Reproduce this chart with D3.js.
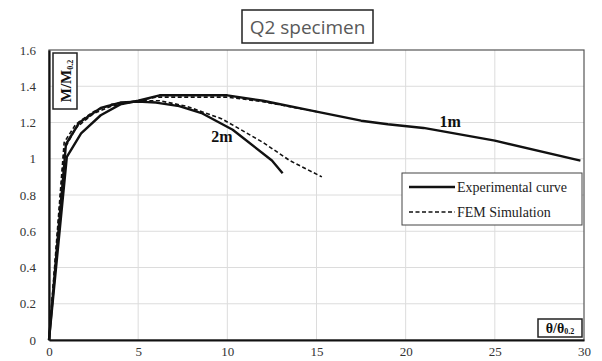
<!DOCTYPE html>
<html>
<head>
<meta charset="utf-8">
<script src="https://cdn.jsdelivr.net/npm/d3@7"></script>
<style>
  body { margin: 0; background: #fff; }
  .tick text { font-family: "Liberation Serif", "DejaVu Serif", serif; font-size: 13px; fill: #333; }
</style>
</head>
<body>
<div id="chart"></div>
<script>
// values
var xTicks = [0, 5, 10, 15, 20, 25, 30];
var yTicks = [0, 0.2, 0.4, 0.6, 0.8, 1, 1.2, 1.4, 1.6];

// [theta/theta0.2, M/M0.2]
var exp1m = [[0,0],[1.0,1.01],[1.8,1.14],[2.9,1.24],[4,1.30],[5,1.32],[6.2,1.35],[10,1.35],[12,1.32],[15,1.26],[17.5,1.21],[19,1.19],[21,1.17],[25,1.10],[29.8,0.99]];
var exp2m = [[0,0],[0.95,1.08],[1.7,1.2],[2.9,1.28],[4,1.31],[5,1.315],[6,1.31],[7.3,1.29],[8.6,1.25],[10.3,1.16],[12.5,0.99],[13.1,0.92]];
var fem1m = [[0,0],[0.85,1.05],[1.5,1.17],[2.5,1.25],[3.5,1.29],[5,1.32],[6,1.34],[10,1.34],[12,1.315],[15,1.26]];
var fem2m = [[0,0],[0.85,1.09],[1.5,1.19],[2.5,1.26],[3.5,1.3],[5,1.32],[6.2,1.32],[7.7,1.29],[9.7,1.22],[12,1.09],[13.5,0.99],[15.3,0.90]];

var legendLabels = ["Experimental curve", "FEM Simulation"];

var svgWidth = 602, svgHeight = 361;
var margin = {top: 50, right: 18, bottom: 21, left: 49};
var width = svgWidth - margin.left - margin.right,
    height = svgHeight - margin.top - margin.bottom;

var svg = d3.select('#chart').append('svg')
  .attr('width', svgWidth)
  .attr('height', svgHeight);

var g = svg.append('g')
  .attr('transform', 'translate(' + margin.left + ',' + margin.top + ')');

var x = d3.scaleLinear().domain([0, 30]).range([0, width]);
var y = d3.scaleLinear().domain([0, 1.6]).range([height, 0]);

// grid
g.append('g').selectAll('line.vg')
  .data(xTicks.slice(1, -1)).enter().append('line')
  .attr('x1', function(d) { return x(d); }).attr('x2', function(d) { return x(d); })
  .attr('y1', 0).attr('y2', height)
  .attr('stroke', '#dcdcdc').attr('stroke-width', 1);
g.append('g').selectAll('line.hg')
  .data(yTicks.slice(1, -1)).enter().append('line')
  .attr('y1', function(d) { return y(d); }).attr('y2', function(d) { return y(d); })
  .attr('x1', 0).attr('x2', width)
  .attr('stroke', '#dcdcdc').attr('stroke-width', 1);

// plot frame
g.append('rect')
  .attr('x', 0).attr('y', 0).attr('width', width).attr('height', height)
  .attr('fill', 'none').attr('stroke', '#555').attr('stroke-width', 1.2);

// axes
var xAxis = g.append('g')
  .attr('transform', 'translate(0,' + height + ')')
  .call(d3.axisBottom(x).tickValues(xTicks).tickSize(0).tickPadding(7).tickFormat(d3.format('d')));
xAxis.select('.domain').attr('stroke', '#111').attr('stroke-width', 2.2);

var yAxis = g.append('g')
  .call(d3.axisLeft(y).tickValues(yTicks).tickSize(0).tickPadding(13).tickFormat(function(d) { return d3.format('')(d); }));
yAxis.select('.domain').attr('stroke', '#111').attr('stroke-width', 2.2);

// series
var line = d3.line()
  .x(function(d) { return x(d[0]); })
  .y(function(d) { return y(d[1]); });

[fem1m, fem2m].forEach(function(s) {
  g.append('path').datum(s)
    .attr('fill', 'none').attr('stroke', '#111')
    .attr('stroke-width', 1.6).attr('stroke-dasharray', '4,2.5')
    .attr('d', line);
});
[exp1m, exp2m].forEach(function(s) {
  g.append('path').datum(s)
    .attr('fill', 'none').attr('stroke', '#111')
    .attr('stroke-width', 2.4).attr('stroke-linejoin', 'round')
    .attr('d', line);
});

// curve labels
var serif = '"Liberation Serif", "DejaVu Serif", serif';
g.append('text').attr('x', x(22.5)).attr('y', y(1.173)).attr('text-anchor', 'middle')
  .attr('font-family', serif).attr('font-weight', 'bold').attr('font-size', 16)
  .attr('fill', '#111').text('1m');
g.append('text').attr('x', x(9.7)).attr('y', y(1.095)).attr('text-anchor', 'middle')
  .attr('font-family', serif).attr('font-weight', 'bold').attr('font-size', 16)
  .attr('fill', '#111').text('2m');

// legend
var legend = g.append('g').attr('transform', 'translate(' + (402 - margin.left) + ',' + (173 - margin.top) + ')');
legend.append('rect').attr('width', 180).attr('height', 52)
  .attr('fill', '#fff').attr('stroke', '#444').attr('stroke-width', 1);
legendLabels.forEach(function(lbl, i) {
  var yy = 14 + i * 25;
  legend.append('line').attr('x1', 7).attr('x2', 53).attr('y1', yy).attr('y2', yy)
    .attr('stroke', '#111').attr('stroke-width', i === 0 ? 2.4 : 1.5)
    .attr('stroke-dasharray', i === 0 ? null : '4,2.5');
  legend.append('text').attr('x', 55).attr('y', yy).attr('dy', '0.35em')
    .attr('font-family', serif).attr('font-size', 14).attr('fill', '#222').text(lbl);
});

// y axis label box (rotated)
var yl = svg.append('g');
yl.append('rect').attr('x', 53).attr('y', 53).attr('width', 24).attr('height', 56)
  .attr('fill', '#fff').attr('stroke', '#222').attr('stroke-width', 1.5);
var ylt = yl.append('text')
  .attr('transform', 'translate(71,81) rotate(-90)')
  .attr('text-anchor', 'middle')
  .attr('font-family', serif).attr('font-weight', 'bold').attr('font-size', 15).attr('fill', '#111');
ylt.append('tspan').text('M/M');
ylt.append('tspan').attr('font-size', 8).attr('dy', 2).text('0.2');

// x axis label box
var xl = svg.append('g');
xl.append('rect').attr('x', 538).attr('y', 319).attr('width', 44).attr('height', 18)
  .attr('fill', '#fff').attr('stroke', '#222').attr('stroke-width', 1.5);
var xlt = xl.append('text').attr('x', 560).attr('y', 333).attr('text-anchor', 'middle')
  .attr('font-family', serif).attr('font-weight', 'bold').attr('font-size', 14).attr('fill', '#111');
xlt.append('tspan').text('θ/θ');
xlt.append('tspan').attr('font-size', 8).attr('dy', 1).text('0.2');

// title box
svg.append('rect').attr('x', 242).attr('y', 10).attr('width', 131).attr('height', 33)
  .attr('fill', '#fff').attr('stroke', '#222').attr('stroke-width', 1.5);
svg.append('text').attr('x', 307.5).attr('y', 34).attr('text-anchor', 'middle')
  .attr('font-family', '"Open Sans", "Liberation Sans", sans-serif').attr('font-size', 19)
  .attr('fill', '#595959').text('Q2 specimen');
</script>
</body>
</html>
